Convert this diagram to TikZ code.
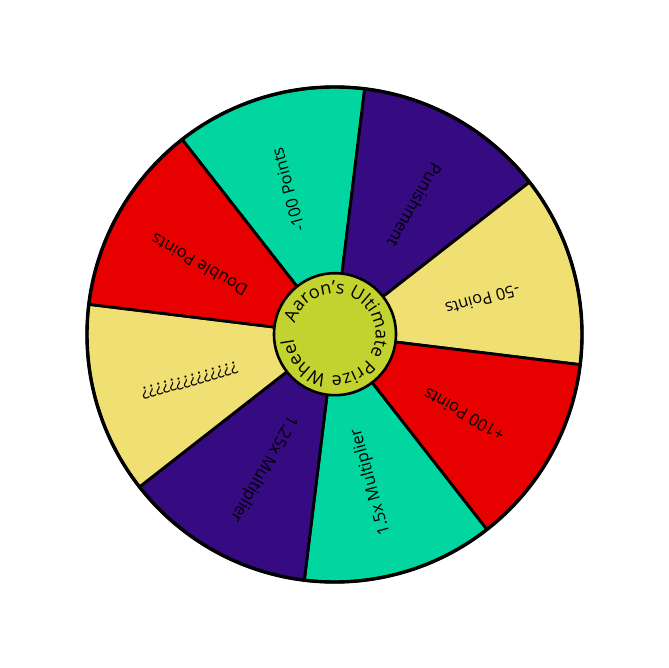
\documentclass[tikz,border=0pt]{standalone}
\usepackage{fontspec}
\setmainfont{Open Sans}
\usetikzlibrary{decorations.text}
\definecolor{cteal}{RGB}{2,214,160}
\definecolor{cpurple}{RGB}{54,10,128}
\definecolor{cyellow}{RGB}{240,223,115}
\definecolor{cred}{RGB}{232,0,0}
\definecolor{clime}{RGB}{194,210,46}
\begin{document}
\begin{tikzpicture}[x=1pt,y=1pt,
  lbl/.style={font=\fontsize{16.5}{18}\selectfont, anchor=base, inner sep=0pt, text=black},
  sector/.style={draw=black, line width=2.8pt, line join=round}]
\useasboundingbox (-334.5,-333.5) rectangle (333.5,334.5);
\fill[white] (-334.5,-333.5) rectangle (333.5,334.5);
\def\R{247.5}
\foreach \a/\c in {83/cteal, 38/cpurple, -7/cyellow, -52/cred, -97/cteal, -142/cpurple, 173/cyellow, 128/cred}
  \filldraw[fill=\c, sector] (0,0) -- (\a:\R) arc[start angle=\a, end angle=\a+45, radius=\R] -- cycle;
\draw[line width=3.4pt] (0,0) circle[radius=\R];
\filldraw[fill=clime, line width=2.6pt] (0.5,0.3) circle[radius=61];
\path[decorate, decoration={text along path, text align=center,
  text={|\fontsize{18}{20}\selectfont|Aaron's Ultimate Prize Wheel}}]
  (175:41) arc[start angle=175, end angle=-185, radius=41];
\node[lbl, rotate=105.5] (l1) at (105.5:152) {-100 Points};
\node[lbl, rotate=240.5] (l2) at (60.5:152) {Punishment};
\node[lbl, rotate=195.5] (l3) at (15.5:152) {-50 Points};
\node[lbl, rotate=150.5] (l4) at (-29.5:152) {+100 Points};
\node[lbl, rotate=105.5] (l5) at (-74.5:152) {1.5x Multiplier};
\node[lbl, rotate=240.5] (l6) at (-119.5:152) {1.25x Multiplier};
\node[lbl, rotate=195.5] (l7) at (195.5:152) {??????????????};
\node[lbl, rotate=150.5] (l8) at (150.5:152) {Double Points};
\end{tikzpicture}
\end{document}
